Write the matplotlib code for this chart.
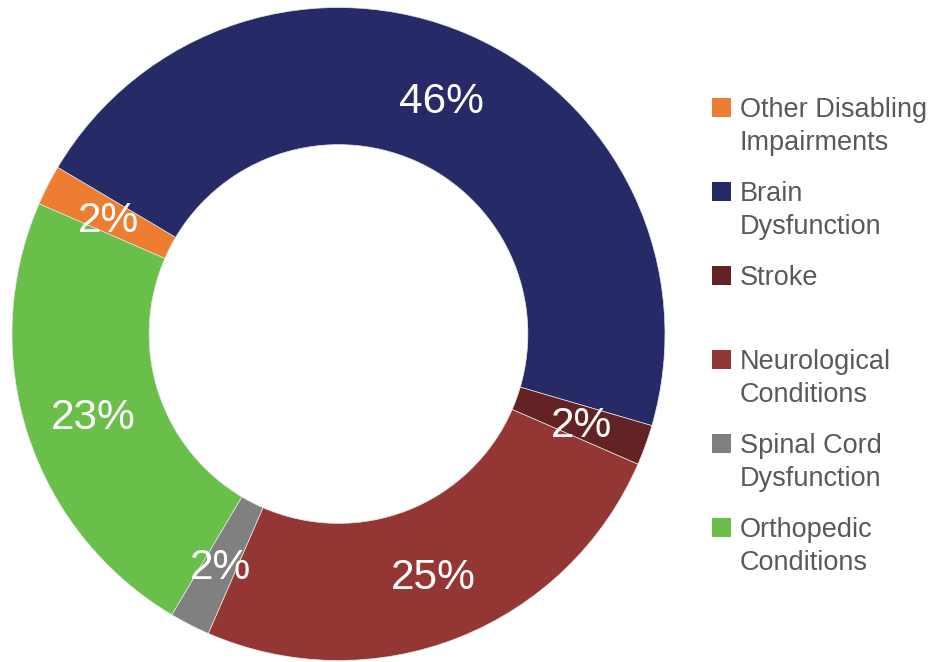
import matplotlib.pyplot as plt
from matplotlib.patches import Rectangle

plt.rcParams['font.family'] = ['Liberation Sans', 'DejaVu Sans']

# chart data
categories = ["Other Disabling\nImpairments", "Brain\nDysfunction", "Stroke",
              "Neurological\nConditions", "Spinal Cord\nDysfunction",
              "Orthopedic\nConditions"]
shares = [2, 46, 2, 25, 2, 23]
colors = ["#ED7D31", "#262B67", "#632223", "#943634", "#808080", "#6ABF4B"]

W, H = 939, 662
fig = plt.figure(figsize=(W / 100, H / 100), dpi=100)

# donut: centre (338.5, 334) px, outer radius 326.5 px
cx, cy, r = 338.5, 334, 326.5
ax = fig.add_axes([(cx - r) / W, (H - cy - r) / H, 2 * r / W, 2 * r / H])
wedges, texts, autotexts = ax.pie(
    shares, colors=colors, startangle=156.5, counterclock=False,
    radius=1, autopct='%1.0f%%', pctdistance=0.79,
    wedgeprops=dict(width=0.42, edgecolor='#e6e6e6', linewidth=0.5),
    textprops=dict(color='white', fontsize=30.5))
for t in autotexts:
    t.set_va('center_baseline')
ax.set_xlim(-1, 1)
ax.set_ylim(-1, 1)
ax.set_aspect('equal')
ax.axis('off')

# legend drawn by hand, one entry every 84 px
for i, (lab, col) in enumerate(zip(categories, colors)):
    top = 98 + 84 * i
    fig.patches.append(Rectangle((712 / W, 1 - (top + 19) / H), 19 / W, 19 / H,
                                 transform=fig.transFigure, facecolor=col,
                                 edgecolor='none'))
    for j, line in enumerate(lab.split("\n")):
        base = top + 19 + 33 * j
        fig.text(740 / W, 1 - base / H, line, fontsize=19.5, color='#595959',
                 va='baseline', ha='left')

fig.savefig("out.png", dpi=100)
